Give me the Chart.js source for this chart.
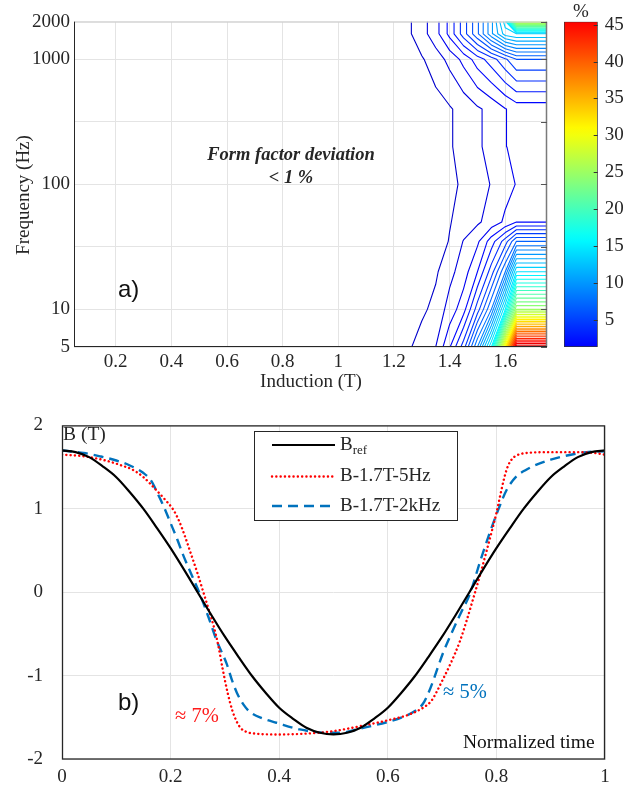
<!DOCTYPE html>
<html><head><meta charset="utf-8">
<script src="https://cdn.jsdelivr.net/npm/chart.js@4.4.1/dist/chart.umd.min.js"></script>
<style>
html,body{margin:0;padding:0;background:#fff;}
#wrap{position:relative;width:644px;height:790px;overflow:hidden;background:#fff;}
canvas{position:absolute;display:block;}
#cTop{left:0;top:0;}
#cBar{left:540px;top:0;}
#cBot{left:0;top:395px;}
</style></head><body>
<div id="wrap">
<canvas id="cTop" width="644" height="395"></canvas>
<canvas id="cBar" width="104" height="395"></canvas>
<canvas id="cBot" width="644" height="395"></canvas>
</div>
<script>
// ---------------- DATA: panel a) form factor deviation (%) ----------------
const inductionGrid = [0.05, 1.0, 1.2, 1.3, 1.35, 1.4, 1.45, 1.5, 1.55, 1.6, 1.64, 1.75];
const frequencyGrid = [5, 10, 20, 35, 50, 100, 200, 400, 1000, 1600, 2000];
const dev5    = [0, 0, 0.2, 1.45, 2.0, 3.9, 6.5, 11, 17, 32, 48, 48];
const dev10   = [0, 0, 0, 0.8, 1.3, 2.4, 3.6, 6.5, 10, 17, 26, 26];
const dev20   = [0, 0, 0, 0.4, 0.85, 1.7, 2.5, 4, 6.5, 10, 16, 16];
const dev35   = [0, 0, 0, 0.2, 0.55, 1.05, 2.05, 2.8, 4.5, 6.5, 9, 9];
const dev50   = [0, 0, 0, 0.1, 0.4, 0.95, 1.35, 1.85, 2.4, 3.2, 3.97, 3.97];
const dev100  = [0, 0, 0, 0.2, 0.45, 0.7, 1.2, 1.6, 2.05, 2.6, 3.05, 3.05];
const dev200  = [0, 0, 0, 0.3, 0.6, 0.9, 1.35, 1.85, 2.3, 2.95, 3.3, 3.3];
const dev400  = [0, 0, 0, 0.3, 0.6, 0.9, 1.35, 1.85, 2.3, 2.95, 3.4, 3.4];
const dev1000 = [0, 0, 0, 0.9, 1.5, 2.3, 3.3, 4.5, 5.5, 6.8, 8, 8];
const dev1600 = [0, 0, 0, 1.6, 2.6, 4.3, 6.5, 8.8, 11.7, 14.5, 15, 15];
const dev2000 = [0, 0, 0, 1.6, 2.6, 4.3, 6.5, 8.8, 11.7, 15.5, 28, 28];
const contourLevels = [1,2,3,4,5,6,7,8,9,10,11,12,13,14,15,16,17,18,19,20,21,22,23,24,25,26,27,28,29,30,31,32,33,34,35,36,37,38,39,40,41,42,43,44,45,46,47,48];
const freqTickValues = [5, 10, 31.62, 100, 316.2, 1000, 2000];
const freqTickLabels = ['5', '10', '', '100', '', '1000', '2000'];
const inductionTicks = [0.2, 0.4, 0.6, 0.8, 1, 1.2, 1.4, 1.6];
const inductionTickLabels = ['0.2', '0.4', '0.6', '0.8', '1', '1.2', '1.4', '1.6'];
const colorbarTicks = [5, 10, 15, 20, 25, 30, 35, 40, 45];
const colorbarRange = [1.3, 45.4];

// ---------------- DATA: panel b) induction waveforms ----------------
const tRef = [0,0.025,0.05,0.075,0.1,0.125,0.15,0.175,0.2,0.225,0.25,0.275,0.3,0.325,0.35,0.375,0.4,0.425,0.45,0.475,0.5,0.525,0.55,0.575,0.6,0.625,0.65,0.675,0.7,0.725,0.75,0.775,0.8,0.825,0.85,0.875,0.9,0.925,0.95,0.975,1];
const bRef = [1.70,1.68,1.62,1.51,1.38,1.20,1.00,0.77,0.53,0.27,0,-0.27,-0.53,-0.77,-1.00,-1.20,-1.38,-1.51,-1.62,-1.68,-1.70,-1.68,-1.62,-1.51,-1.38,-1.20,-1.00,-0.77,-0.53,-0.27,0,0.27,0.53,0.77,1.00,1.20,1.38,1.51,1.62,1.68,1.70];
const t5Hz = [0,0.04,0.08,0.11,0.13,0.15,0.17,0.19,0.205,0.216,0.226,0.236,0.248,0.26,0.27,0.28,0.288,0.296,0.305,0.314,0.322,0.33,0.34,0.355,0.4,0.45,0.5,0.55,0.6,0.64,0.665,0.68,0.69,0.7,0.715,0.733,0.745,0.757,0.77,0.78,0.791,0.8,0.807,0.814,0.821,0.829,0.837,0.856,0.9,0.95,0.98,1];
const b5Hz = [1.65,1.63,1.58,1.52,1.47,1.38,1.25,1.11,0.99,0.85,0.68,0.49,0.26,0.01,-0.2,-0.42,-0.64,-0.92,-1.2,-1.42,-1.55,-1.63,-1.67,-1.69,-1.70,-1.69,-1.66,-1.6,-1.53,-1.46,-1.38,-1.3,-1.19,-1.06,-0.86,-0.58,-0.34,-0.08,0.21,0.45,0.72,0.95,1.16,1.36,1.51,1.6,1.64,1.67,1.68,1.68,1.67,1.65];
const t2kHz = [0,0.04,0.07,0.1,0.125,0.15,0.165,0.175,0.188,0.2,0.212,0.223,0.238,0.254,0.27,0.285,0.303,0.313,0.322,0.334,0.346,0.37,0.395,0.438,0.487,0.51,0.555,0.6,0.628,0.65,0.665,0.675,0.684,0.693,0.702,0.72,0.735,0.751,0.77,0.788,0.804,0.819,0.837,0.855,0.874,0.9,0.923,0.966,1];
const b2kHz = [1.70,1.67,1.63,1.58,1.52,1.43,1.33,1.2,1.02,0.83,0.64,0.45,0.22,-0.02,-0.3,-0.58,-0.85,-1.05,-1.2,-1.34,-1.43,-1.51,-1.56,-1.64,-1.68,-1.68,-1.62,-1.55,-1.49,-1.42,-1.33,-1.2,-1.05,-0.88,-0.72,-0.45,-0.24,-0.02,0.37,0.72,1.0,1.23,1.39,1.47,1.53,1.59,1.63,1.68,1.69];
const timeTicks = [0, 0.2, 0.4, 0.6, 0.8, 1];
const timeTickLabels = ['0', '0.2', '0.4', '0.6', '0.8', '1'];
const fieldTicks = [-2, -1, 0, 1, 2];
const fieldTickLabels = ['-2', '-1', '0', '1', '2'];
const seriesNames = ['B', 'B-1.7T-5Hz', 'B-1.7T-2kHz'];
const seriesSubscripts = ['ref', '', ''];

// ---------------- helpers ----------------
const SERIF = "'Liberation Serif', 'Times New Roman', serif";
const SANS = "'Liberation Sans', Arial, sans-serif";
const TXT = '#262626';
Chart.defaults.font.family = SERIF;
Chart.defaults.font.size = 19;
Chart.defaults.color = TXT;
Chart.defaults.animation = false;

function jet(s) {
  const c = v => Math.round(255 * Math.max(0, Math.min(1, v)));
  return 'rgb(' + c(1.5 - Math.abs(4 * s - 3)) + ',' + c(1.5 - Math.abs(4 * s - 2)) + ',' + c(1.5 - Math.abs(4 * s - 1)) + ')';
}
function levelColor(v) { return jet(0.075 + 0.8 * (v - 1) / 44); }
function barColor(v) { return jet(0.125 + 0.75 * (v - colorbarRange[0]) / (colorbarRange[1] - colorbarRange[0])); }

const devRows = [dev5, dev10, dev20, dev35, dev50, dev100, dev200, dev400, dev1000, dev1600, dev2000];

function contourData(level) {
  const nx = inductionGrid.length, ny = frequencyGrid.length;
  const ly = frequencyGrid.map(f => Math.log10(f));
  const segs = [];
  const cross = (i1, j1, i2, j2) => {
    const a = devRows[j1][i1], b = devRows[j2][i2];
    if ((a >= level) === (b >= level)) return null;
    const t = (level - a) / (b - a);
    const key = [Math.min(i1, i2), Math.min(j1, j2), Math.max(i1, i2), Math.max(j1, j2)].join('_');
    return { key, x: inductionGrid[i1] + t * (inductionGrid[i2] - inductionGrid[i1]), ly: ly[j1] + t * (ly[j2] - ly[j1]) };
  };
  for (let j = 0; j < ny - 1; j++) {
    for (let i = 0; i < nx - 1; i++) {
      const p = [cross(i, j, i + 1, j), cross(i + 1, j, i + 1, j + 1), cross(i + 1, j + 1, i, j + 1), cross(i, j + 1, i, j)];
      const pts = p.filter(Boolean);
      if (pts.length === 2) segs.push([pts[0], pts[1]]);
      else if (pts.length === 4) {
        const c = (devRows[j][i] + devRows[j][i + 1] + devRows[j + 1][i] + devRows[j + 1][i + 1]) / 4;
        if ((c >= level) === (devRows[j][i] >= level)) { segs.push([p[0], p[1]]); segs.push([p[2], p[3]]); }
        else { segs.push([p[0], p[3]]); segs.push([p[1], p[2]]); }
      }
    }
  }
  const adj = new Map();
  segs.forEach((s, k) => s.forEach(pt => { if (!adj.has(pt.key)) adj.set(pt.key, []); adj.get(pt.key).push(k); }));
  const used = segs.map(() => false);
  const out = [];
  segs.forEach((s, k) => {
    if (used[k]) return;
    used[k] = true;
    const line = [s[0], s[1]];
    let end = s[1].key;
    for (;;) {
      const n = (adj.get(end) || []).find(q => !used[q]);
      if (n === undefined) break;
      used[n] = true;
      const o = segs[n][0].key === end ? segs[n][1] : segs[n][0];
      line.push(o); end = o.key;
    }
    end = s[0].key;
    for (;;) {
      const n = (adj.get(end) || []).find(q => !used[q]);
      if (n === undefined) break;
      used[n] = true;
      const o = segs[n][0].key === end ? segs[n][1] : segs[n][0];
      line.unshift(o); end = o.key;
    }
    line.forEach(pt => out.push({ x: pt.x, y: Math.pow(10, pt.ly) }));
    out.push({ x: NaN, y: null });
  });
  return out;
}

function hline(ctx, x1, y1, x2, y2) { ctx.beginPath(); ctx.moveTo(x1, y1); ctx.lineTo(x2, y2); ctx.stroke(); }
function text(ctx, str, x, y, font, color, align) {
  ctx.font = font; ctx.fillStyle = color || TXT; ctx.textAlign = align || 'left'; ctx.textBaseline = 'middle';
  ctx.fillText(str, x, y);
}

// ---------------- panel a) ----------------
const topDecor = {
  id: 'topDecor',
  afterDraw(chart) {
    const { ctx, chartArea: a, scales: { y } } = chart;
    ctx.save();
    ctx.lineWidth = 1;
    ctx.strokeStyle = '#cfcfcf'; hline(ctx, a.left, a.top + 0.5, a.right, a.top + 0.5);
    ctx.strokeStyle = '#7a7a7a'; ctx.lineWidth = 1.5; hline(ctx, a.right - 0.5, a.top, a.right - 0.5, a.bottom);
    ctx.strokeStyle = '#555'; ctx.lineWidth = 1;
    freqTickValues.forEach(v => { const py = Math.round(y.getPixelForValue(v)) + 0.5; hline(ctx, a.right - 6, py, a.right, py); });
    ctx.strokeStyle = TXT; ctx.lineWidth = 1;
    hline(ctx, a.left + 0.5, a.top, a.left + 0.5, a.bottom);
    hline(ctx, a.left, a.bottom - 0.5, a.right, a.bottom - 0.5);
    ctx.save();
    ctx.translate(24.5, 195); ctx.rotate(-Math.PI / 2);
    text(ctx, 'Frequency (Hz)', 0, 0, '19px ' + SERIF, TXT, 'center');
    ctx.restore();
    text(ctx, 'Induction (T)', 311, 382, '19px ' + SERIF, TXT, 'center');
    text(ctx, 'a)', 118, 290, '24px ' + SANS, '#111', 'left');
    text(ctx, 'Form factor deviation', 291, 155, 'italic bold 18.5px ' + SERIF, TXT, 'center');
    text(ctx, '< 1 %', 291, 178, 'italic bold 18.5px ' + SERIF, TXT, 'center');
    ctx.restore();
  }
};

const contourSets = contourLevels.map(L => ({
  label: 'level ' + L,
  data: contourData(L),
  showLine: true,
  borderColor: levelColor(L),
  borderWidth: 1.1,
  pointRadius: 0,
  spanGaps: false,
  borderCapStyle: 'round',
  borderJoinStyle: 'round',
  tension: 0
}));

new Chart(document.getElementById('cTop'), {
  type: 'scatter',
  data: { datasets: contourSets },
  options: {
    responsive: false, devicePixelRatio: 1, animation: false,
    layout: { padding: { left: 0, right: 97, top: 21.7, bottom: 0 } },
    plugins: { legend: { display: false }, tooltip: { enabled: false } },
    scales: {
      x: {
        type: 'linear', min: 0.05, max: 1.75,
        afterBuildTicks: s => { s.ticks = inductionTicks.map(v => ({ value: v })); },
        afterFit: s => { s.height = 48; },
        ticks: { autoSkip: false, maxRotation: 0, padding: 4, callback: (v, i) => inductionTickLabels[i] },
        grid: { color: '#e4e4e4', drawTicks: false },
        border: { display: false }
      },
      y: {
        type: 'logarithmic', min: 5, max: 2000,
        afterBuildTicks: s => { s.ticks = freqTickValues.map(v => ({ value: v })); },
        afterFit: s => { s.width = 74; },
        ticks: { autoSkip: false, padding: 4, callback: (v, i) => freqTickLabels[i] },
        grid: { color: '#e4e4e4', drawTicks: false },
        border: { display: false }
      }
    }
  },
  plugins: [topDecor]
});

// ---------------- colorbar ----------------
const barDecor = {
  id: 'barDecor',
  afterDraw(chart) {
    const { ctx, chartArea: a, scales: { y } } = chart;
    ctx.save();
    ctx.strokeStyle = '#333'; ctx.lineWidth = 1;
    colorbarTicks.forEach(v => { const py = Math.round(y.getPixelForValue(v)) + 0.5; hline(ctx, a.right - 4, py, a.right, py); });
    text(ctx, '%', (a.left + a.right) / 2, 12, '19px ' + SERIF, TXT, 'center');
    ctx.restore();
  }
};
new Chart(document.getElementById('cBar'), {
  type: 'bar',
  data: {
    labels: [''],
    datasets: [{
      data: [colorbarRange],
      backgroundColor: (context) => {
        const { ctx, chartArea } = context.chart;
        if (!chartArea) return '#00f';
        const g = ctx.createLinearGradient(0, chartArea.bottom, 0, chartArea.top);
        for (let k = 0; k <= 40; k++) {
          const v = colorbarRange[0] + (colorbarRange[1] - colorbarRange[0]) * k / 40;
          g.addColorStop(k / 40, barColor(v));
        }
        return g;
      },
      borderColor: '#333', borderWidth: 1, borderSkipped: false,
      barPercentage: 1, categoryPercentage: 1
    }]
  },
  options: {
    responsive: false, devicePixelRatio: 1, animation: false,
    layout: { padding: { left: 24, right: 0, top: 21.7, bottom: 48 } },
    plugins: { legend: { display: false }, tooltip: { enabled: false } },
    scales: {
      x: { display: false },
      y: {
        position: 'right', min: colorbarRange[0], max: colorbarRange[1],
        afterBuildTicks: s => { s.ticks = colorbarTicks.map(v => ({ value: v })); },
        afterFit: s => { s.width = 46.3; },
        ticks: { autoSkip: false, padding: 7, callback: (v, i) => String(colorbarTicks[i]) },
        grid: { display: false, drawTicks: false },
        border: { display: false }
      }
    }
  },
  plugins: [barDecor]
});

// ---------------- panel b) ----------------
const botDecor = {
  id: 'botDecor',
  afterDraw(chart) {
    const { ctx, chartArea: a } = chart;
    ctx.save();
    ctx.strokeStyle = '#262626'; ctx.lineWidth = 1.3;
    ctx.strokeRect(a.left + 0.5, a.top + 0.5, a.right - a.left - 1, a.bottom - a.top - 1);
    const bx = 254.5, by = 36.5, bw = 203, bh = 89;
    ctx.fillStyle = '#fff'; ctx.fillRect(bx, by, bw, bh);
    ctx.strokeStyle = '#262626'; ctx.lineWidth = 1; ctx.strokeRect(bx, by, bw, bh);
    const rows = [50, 81.5, 111];
    chart.data.datasets.forEach((ds, i) => {
      const cy = rows[i];
      ctx.save();
      ctx.strokeStyle = ds.borderColor; ctx.lineWidth = ds.borderWidth;
      ctx.setLineDash(ds.borderDash || []); ctx.lineCap = ds.borderCapStyle || 'butt';
      hline(ctx, 272, cy, 335, cy);
      ctx.restore();
      text(ctx, seriesNames[i], 340, cy, '19px ' + SERIF, TXT, 'left');
      if (seriesSubscripts[i]) {
        ctx.font = '19px ' + SERIF;
        const w = ctx.measureText(seriesNames[i]).width;
        text(ctx, seriesSubscripts[i], 340 + w, cy + 6, '13px ' + SERIF, TXT, 'left');
      }
    });
    text(ctx, 'B (T)', 63, 40, '19.5px ' + SERIF, TXT, 'left');
    text(ctx, 'b)', 118, 308, '24px ' + SANS, '#111', 'left');
    text(ctx, '\u2248 7%', 175, 322, '20.5px ' + SERIF, '#ff1a1a', 'left');
    text(ctx, '\u2248 5%', 443, 298, '20.5px ' + SERIF, '#0072BD', 'left');
    text(ctx, 'Normalized time', 463, 348, '19.5px ' + SERIF, '#111', 'left');
    ctx.restore();
  }
};

const toPts = (xs, ys) => xs.map((x, i) => ({ x, y: ys[i] }));
new Chart(document.getElementById('cBot'), {
  type: 'line',
  data: {
    datasets: [
      { label: 'Bref', data: toPts(tRef, bRef), borderColor: '#000', borderWidth: 2.2, pointRadius: 0, fill: false, cubicInterpolationMode: 'monotone' },
      { label: 'B-1.7T-5Hz', data: toPts(t5Hz, b5Hz), borderColor: '#ff0000', borderWidth: 2.4, borderDash: [0.1, 4.2], borderCapStyle: 'round', pointRadius: 0, fill: false, cubicInterpolationMode: 'monotone' },
      { label: 'B-1.7T-2kHz', data: toPts(t2kHz, b2kHz), borderColor: '#0072BD', borderWidth: 2.4, borderDash: [10, 6], pointRadius: 0, fill: false, cubicInterpolationMode: 'monotone' }
    ]
  },
  options: {
    responsive: false, devicePixelRatio: 1, animation: false,
    layout: { padding: { left: 0, right: 39, top: 27.7, bottom: 0 } },
    plugins: { legend: { display: false }, tooltip: { enabled: false } },
    scales: {
      x: {
        type: 'linear', min: 0, max: 1,
        afterBuildTicks: s => { s.ticks = timeTicks.map(v => ({ value: v })); },
        afterFit: s => { s.height = 30.5; },
        ticks: { autoSkip: false, maxRotation: 0, padding: 6, callback: (v, i) => timeTickLabels[i] },
        grid: { color: '#e4e4e4', drawTicks: false },
        border: { display: false }
      },
      y: {
        type: 'linear', min: -2, max: 2,
        afterBuildTicks: s => { s.ticks = fieldTicks.map(v => ({ value: v })); },
        afterFit: s => { s.width = 62; },
        ticks: { autoSkip: false, padding: 19, callback: (v, i) => fieldTickLabels[i] },
        grid: { color: '#e4e4e4', drawTicks: false },
        border: { display: false }
      }
    }
  },
  plugins: [botDecor]
});
</script>
</body></html>
